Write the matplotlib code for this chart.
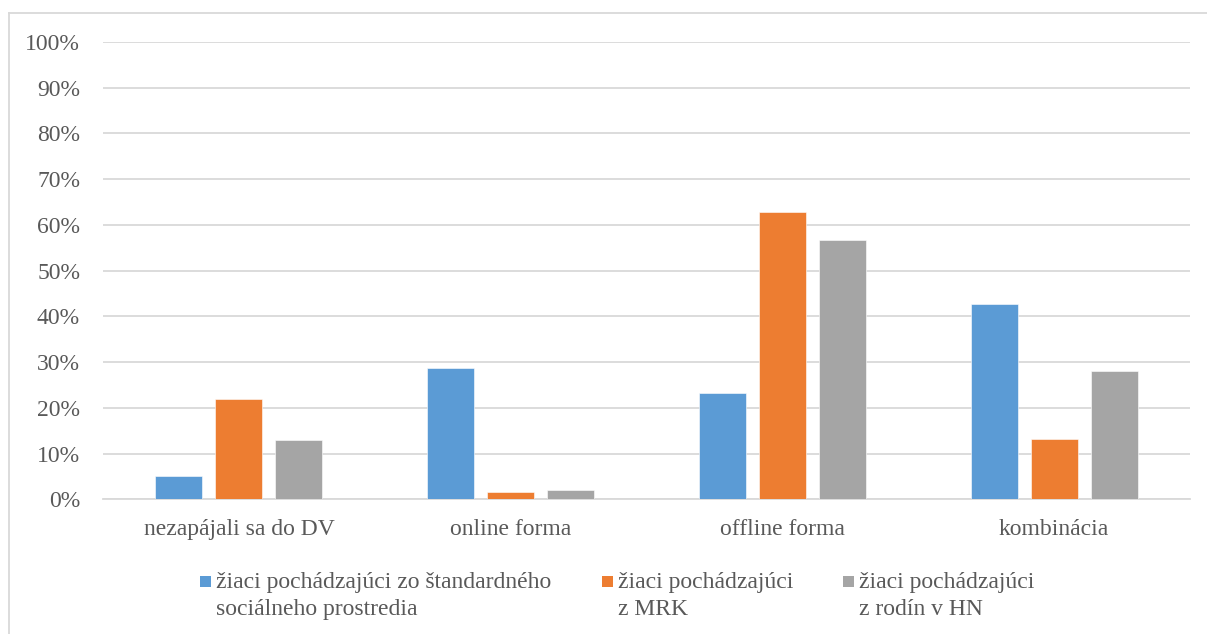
import matplotlib
matplotlib.use("Agg")
import matplotlib.pyplot as plt
from matplotlib.patches import Rectangle
from matplotlib.lines import Line2D
import numpy as np

categories = ["nezapájali sa do DV", "online forma", "offline forma", "kombinácia"]
series_names = ["žiaci pochádzajúci zo štandardného\nsociálneho prostredia",
                "žiaci pochádzajúci\nz MRK",
                "žiaci pochádzajúci\nz rodín v HN"]
standard = [5.0, 28.7, 23.2, 42.7]
mrk = [21.9, 1.5, 62.8, 13.1]
hn = [12.9, 2.0, 56.7, 28.0]
yticks = [0, 10, 20, 30, 40, 50, 60, 70, 80, 90, 100]
colors = ["#5B9BD5", "#ED7D31", "#A5A5A5"]

W, H = 1207, 634
plt.rcParams['font.family'] = ['Liberation Serif', 'DejaVu Serif']
txt = "#595959"
FS = 17
fig = plt.figure(figsize=(W/100, H/100), dpi=100)
ax = fig.add_axes([103/W, 1-499.3/H, (1190-103)/W, (499.3-42)/H])

x = np.arange(len(categories))
width = 0.173
pitch = 0.221
for i, (vals, c) in enumerate(zip([standard, mrk, hn], colors)):
    ax.bar(x + (i-1)*pitch, vals, width, color=c, zorder=3, edgecolor='white', linewidth=0.4)

ax.set_xlim(-0.5, len(categories)-0.5)
ax.set_ylim(0, 100)
ax.set_yticks(yticks)
ax.set_yticklabels([f"{v}%" for v in yticks])
ax.set_xticks(x)
ax.set_xticklabels(categories)
ax.tick_params(axis='both', length=0, labelsize=FS, colors=txt)
ax.tick_params(axis='y', pad=16.5)
ax.tick_params(axis='x', pad=14)
ax.grid(axis='y', color='#D9D9D9', linewidth=1.3, zorder=0)
for s in ['top', 'right', 'left']:
    ax.spines[s].set_visible(False)
ax.spines['bottom'].set_color('#D9D9D9')
ax.spines['bottom'].set_linewidth(1.3)

# legend
leg_x = [200, 602, 843]
for lx, name, c in zip(leg_x, series_names, colors):
    fig.patches.append(Rectangle((lx/W, 1-587/H), 11/W, 11/H, transform=fig.transFigure,
                                 facecolor=c, edgecolor='none'))
    fig.text((lx+16)/W, 1-572/H, name, fontsize=FS, color=txt, va='top', ha='left',
             linespacing=1.35)

# outer frame (top and left visible)
fig.add_artist(Line2D([8.5/W, 1.0], [1-13/H, 1-13/H], transform=fig.transFigure, color='#D9D9D9', lw=1.3))
fig.add_artist(Line2D([8.5/W, 8.5/W], [0, 1-13/H], transform=fig.transFigure, color='#D9D9D9', lw=1.3))

fig.savefig("out.png", dpi=100, facecolor='white')
